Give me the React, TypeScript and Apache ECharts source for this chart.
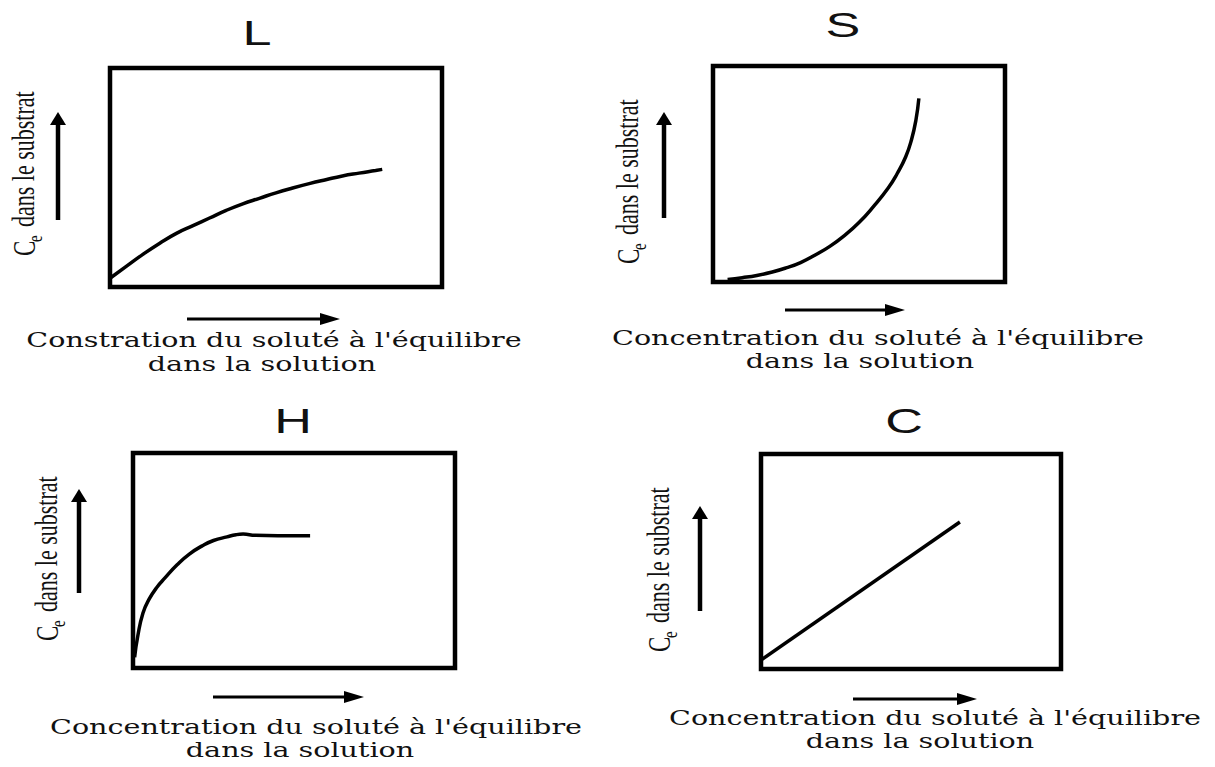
import React, { useEffect, useRef } from "react";
import * as echarts from "echarts";

// ---- data ----
const panelTitles = ["L", "S", "H", "C"];
const xLabelLine1 = [
  "Constration du soluté à l'équilibre",
  "Concentration du soluté à l'équilibre",
  "Concentration du soluté à l'équilibre",
  "Concentration du soluté à l'équilibre",
];
const xLabelLine2 = ["dans la solution", "dans la solution", "dans la solution", "dans la solution"];
const yLabelSymbol = "C";
const yLabelSub = "e";
const yLabelMain = "dans le substrat";

const axisMin = 0;
const axisMax = 10;

const curveL = [
  [0, 0.4], [0.5, 0.95], [1, 1.5], [1.5, 2.0], [2, 2.45], [2.5, 2.8], [3, 3.15],
  [3.5, 3.5], [4, 3.8], [4.5, 4.05], [5, 4.3], [5.5, 4.52], [6, 4.72], [6.5, 4.9],
  [7, 5.07], [7.5, 5.2], [8, 5.32], [8.2, 5.37],
];
const curveS = [
  [0.5, 0.12], [1, 0.2], [1.5, 0.3], [2, 0.45], [2.5, 0.65], [3, 0.9], [3.5, 1.25],
  [4, 1.65], [4.5, 2.15], [5, 2.75], [5.5, 3.5], [6, 4.35], [6.3, 5.0], [6.6, 5.8],
  [6.8, 6.6], [6.95, 7.5], [7.05, 8.5],
];
const curveH = [
  [0.05, 0.5], [0.15, 1.5], [0.31, 2.56], [0.5, 3.2], [0.75, 3.77], [1, 4.2],
  [1.37, 4.8], [1.75, 5.3], [2.17, 5.7], [2.5, 5.93], [2.92, 6.1], [3.2, 6.2],
  [3.42, 6.23], [3.8, 6.17], [4.5, 6.15], [5.5, 6.15],
];
const curveC = [
  [0, 0.42], [6.63, 6.84],
];
const curves = [curveL, curveS, curveH, curveC];
const smoothFlags = [true, true, true, false];

// ---- layout (positions / styles only) ----
const grids = [
  { left: 110, top: 68, width: 332, height: 219 },
  { left: 713, top: 66, width: 292, height: 216 },
  { left: 133, top: 453, width: 322, height: 215 },
  { left: 761, top: 454, width: 300, height: 215 },
];
const titlePos = [[257, 33], [843, 25], [293, 421], [904, 421]];
const xLine1Pos = [[274, 340], [878, 338], [316, 727], [935, 718]];
const xLine2Pos = [[262, 364], [860, 361], [300, 750], [920, 741]];
const yLabelPos = [[24, 256], [628, 264], [47, 641], [659, 652]];
const yArrow = [[58, 112, 220], [664, 112, 218], [79, 489, 593], [700, 506, 611]];
const xArrow = [[319, 187, 340], [310, 785, 905], [697, 213, 364], [699, 853, 977]];

const INK = "#111";

function buildGraphic() {
  const els: any[] = [];
  for (let i = 0; i < 4; i++) {
    els.push({
      type: "text",
      x: titlePos[i][0],
      y: titlePos[i][1],
      scaleX: 1.45,
      style: {
        text: panelTitles[i],
        font: '36px "Liberation Sans"',
        fill: INK,
        align: "center",
        verticalAlign: "middle",
      },
    });
    els.push({
      type: "text",
      x: xLine1Pos[i][0],
      y: xLine1Pos[i][1],
      scaleX: 1.43,
      style: {
        text: xLabelLine1[i],
        font: '20px "DejaVu Serif"',
        fill: INK,
        align: "center",
        verticalAlign: "middle",
      },
    });
    els.push({
      type: "text",
      x: xLine2Pos[i][0],
      y: xLine2Pos[i][1],
      scaleX: 1.43,
      style: {
        text: xLabelLine2[i],
        font: '20px "DejaVu Serif"',
        fill: INK,
        align: "center",
        verticalAlign: "middle",
      },
    });
    els.push({
      type: "group",
      x: yLabelPos[i][0],
      y: yLabelPos[i][1],
      rotation: Math.PI / 2,
      scaleY: 1.4,
      children: [
        {
          type: "text",
          x: 0,
          y: 0,
          style: {
            text: yLabelSymbol,
            font: '23px "Liberation Serif"',
            fill: INK,
            align: "left",
            verticalAlign: "middle",
          },
        },
        {
          type: "text",
          x: 14,
          y: 8,
          style: {
            text: yLabelSub,
            font: '15px "Liberation Serif"',
            fill: INK,
            align: "left",
            verticalAlign: "middle",
          },
        },
        {
          type: "text",
          x: 29,
          y: 0,
          style: {
            text: yLabelMain,
            font: '22px "Liberation Serif"',
            fill: INK,
            align: "left",
            verticalAlign: "middle",
          },
        },
      ],
    });
    const [ax, tipY, tailY] = yArrow[i];
    els.push({
      type: "line",
      shape: { x1: ax, y1: tailY, x2: ax, y2: tipY + 10 },
      style: { stroke: "#000", lineWidth: 4.5 },
    });
    els.push({
      type: "polygon",
      shape: { points: [[ax, tipY], [ax - 8, tipY + 13], [ax + 8, tipY + 13]] },
      style: { fill: "#000" },
    });
    const [ay, tailX, tipX] = xArrow[i];
    els.push({
      type: "line",
      shape: { x1: tailX, y1: ay, x2: tipX - 14, y2: ay },
      style: { stroke: "#000", lineWidth: 3 },
    });
    els.push({
      type: "polygon",
      shape: { points: [[tipX, ay], [tipX - 20, ay - 6], [tipX - 20, ay + 6]] },
      style: { fill: "#000" },
    });
  }
  return els;
}

export default function App() {
  const ref = useRef<HTMLDivElement>(null);
  useEffect(() => {
    if (!ref.current) return;
    const chart = echarts.init(ref.current, null, { renderer: "svg" });
    chart.setOption({
      animation: false,
      backgroundColor: "#fff",
      grid: grids.map((g) => ({
        ...g,
        show: true,
        borderColor: "#000",
        borderWidth: 4.5,
        backgroundColor: "transparent",
      })),
      xAxis: grids.map((_, i) => ({
        type: "value",
        gridIndex: i,
        min: axisMin,
        max: axisMax,
        show: false,
      })),
      yAxis: grids.map((_, i) => ({
        type: "value",
        gridIndex: i,
        min: axisMin,
        max: axisMax,
        show: false,
      })),
      series: curves.map((data, i) => ({
        type: "line",
        xAxisIndex: i,
        yAxisIndex: i,
        data,
        smooth: smoothFlags[i] ? 0.5 : false,
        symbol: "none",
        showSymbol: false,
        silent: true,
        clip: false,
        lineStyle: { color: "#000", width: 3.5 },
      })),
      graphic: buildGraphic(),
    });
    return () => chart.dispose();
  }, []);
  return (
    <div
      ref={ref}
      style={{ position: "absolute", left: 0, top: 0, width: 1215, height: 767, background: "#fff" }}
    />
  );
}
